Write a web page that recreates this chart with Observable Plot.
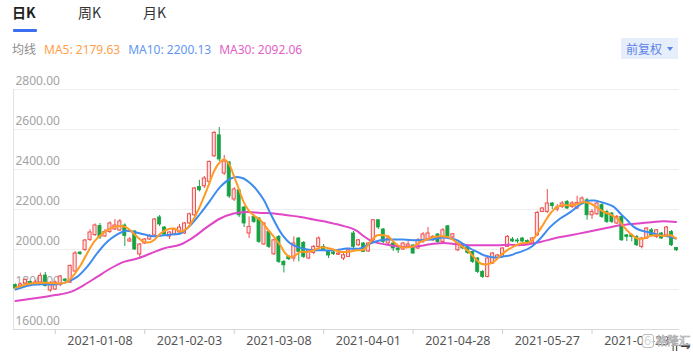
<!DOCTYPE html>
<html>
<head>
<meta charset="utf-8">
<script src="https://cdn.jsdelivr.net/npm/d3@7"></script>
<script src="https://cdn.jsdelivr.net/npm/@observablehq/plot@0.6"></script>
<style>
  html, body { margin: 0; padding: 0; background: #fff; }
  body { width: 693px; height: 353px; position: relative; overflow: hidden;
         font-family: "Noto Sans", "Noto Sans CJK SC", sans-serif; }
  .abs { position: absolute; white-space: nowrap; }
  #chart { position: absolute; left: 0; top: 60px; }
</style>
</head>
<body>
<div class="abs" style="left:12px;top:2px;font-size:14px;font-weight:700;color:#1f1f1f;font-family:'Noto Sans CJK SC',sans-serif;">日K</div>
<div class="abs" style="left:13px;top:29px;width:24px;height:3px;background:#3b6ff2;border-radius:1px;"></div>
<div class="abs" style="left:78px;top:2px;font-size:14px;color:#333;font-family:'Noto Sans CJK SC',sans-serif;">周K</div>
<div class="abs" style="left:143px;top:2px;font-size:14px;color:#333;font-family:'Noto Sans CJK SC',sans-serif;">月K</div>
<div id="legend" class="abs" style="left:12px;top:40px;font-size:12px;"></div>
<div class="abs" style="left:621px;top:38px;width:57px;height:21px;background:#e6eefc;"></div>
<div class="abs" style="left:626px;top:40px;font-size:12px;color:#5b82e6;font-family:'Noto Sans CJK SC',sans-serif;">前复权</div>
<div class="abs" style="left:667px;top:47px;width:0;height:0;border-left:3.5px solid transparent;border-right:3.5px solid transparent;border-top:4px solid #5b82e6;"></div>
<div id="chart"></div>
<div class="abs" style="left:642px;top:334px;width:10px;height:12px;border:1.5px solid #bdbdbd;border-radius:3px;background:rgba(255,255,255,0.75);"></div>
<div class="abs" style="left:656px;top:332px;font-size:11.5px;line-height:16px;color:rgba(255,255,255,0.8);-webkit-text-stroke:0.7px #b0b0b0;font-family:'Noto Sans CJK SC',sans-serif;">格隆汇</div>
<script>
// ---- data ----
const open = [1822,1815,1830,1838,1828,1835,1870,1795,1800,1822,
  1850,1835,1890,1985,1998,2048,2072,2118,2065,2088,
  2100,2095,2120,2040,2090,1975,2030,2050,2070,2160,
  2110,2065,2075,2085,2080,2130,2171,2313,2316,2338,
  2466,2571,2380,2435,2250,2296,2210,2080,2163,2155,
  2025,2088,1976,2063,1938,1963,1955,2055,2033,1955,
  1983,2013,2013,1990,1985,1974,1955,1963,2080,2021,
  2030,1990,2046,2146,2100,2030,2030,2005,2000,2015,
  2020,2005,2038,2050,2046,2075,2038,2116,2060,1996,
  2026,2010,1988,1955,1888,1863,1930,1955,1963,2013,
  2050,2045,2055,2043,2030,2071,2188,2188,2230,2200,
  2213,2238,2213,2205,2230,2246,2171,2176,2222,2188,
  2180,2130,2163,2071,2071,2063,2013,2055,2096,2063,
  2080,2071,2088,2008];
const close = [1805,1825,1848,1828,1835,1868,1818,1830,1835,1865,
  1843,1918,1980,1977,2045,2085,2120,2060,2088,2130,
  2120,2140,2068,2050,2000,2025,2050,2065,2150,2125,
  2075,2085,2100,2110,2130,2176,2305,2296,2355,2438,
  2583,2450,2440,2265,2300,2171,2130,2113,2138,2038,
  2130,2013,2046,1938,1921,1951,2030,1988,1963,1996,
  2013,2055,1996,1970,1978,1980,1971,1996,2013,2046,
  1988,2030,2146,2110,2038,2055,2005,1996,2030,2025,
  1980,2046,2075,2080,2063,2038,2096,2063,2076,2030,
  2005,1983,1938,1888,1863,1955,1980,1970,2005,2063,
  2040,2040,2040,2030,2055,2183,2205,2230,2217,2210,
  2230,2205,2230,2233,2255,2171,2188,2230,2163,2138,
  2138,2163,2046,2063,2063,2021,2055,2105,2071,2096,
  2055,2110,2021,1996];
const high = [1828,1832,1852,1842,1845,1882,1885,1840,1842,1870,
  1855,1922,1990,1988,2050,2098,2128,2130,2100,2138,
  2150,2150,2128,2060,2095,2030,2055,2075,2155,2170,
  2115,2090,2105,2125,2135,2182,2310,2346,2365,2442,
  2590,2610,2470,2440,2310,2300,2215,2163,2170,2160,
  2135,2095,2050,2070,1945,1970,2063,2060,2040,2000,
  2020,2063,2025,1995,1995,1985,1980,2000,2090,2050,
  2035,2035,2150,2150,2105,2070,2035,2010,2035,2040,
  2025,2055,2085,2110,2070,2080,2105,2120,2080,2035,
  2030,2015,1990,1960,1895,1960,1985,1975,2010,2070,
  2060,2055,2060,2048,2060,2190,2210,2300,2235,2225,
  2240,2245,2240,2266,2263,2255,2200,2235,2230,2195,
  2185,2170,2170,2075,2078,2070,2060,2110,2105,2100,
  2085,2115,2095,2010];
const low = [1795,1810,1826,1822,1822,1830,1812,1785,1795,1815,
  1838,1830,1885,1970,1990,2040,2065,2050,2060,2080,
  2095,2090,2015,2035,1995,1960,2025,2045,2065,2115,
  2070,2050,2068,2080,2075,2125,2165,2288,2305,2330,
  2460,2440,2370,2255,2240,2160,2110,2055,2130,2030,
  2020,2005,1970,1930,1883,1945,1938,1938,1955,1950,
  1975,2005,1990,1955,1970,1970,1945,1960,2005,2015,
  1985,1985,2040,2100,2030,2025,1990,1980,1995,2010,
  1975,2000,2030,2045,2040,2030,2030,2055,2055,1990,
  2000,1975,1930,1880,1855,1858,1925,1950,1958,2010,
  2035,2030,2035,2025,2025,2065,2185,2180,2200,2188,
  2205,2200,2205,2200,2225,2146,2150,2170,2155,2130,
  2130,2125,2040,2040,2038,2015,2003,2050,2065,2055,
  2050,2065,2015,1990];

// moving-average lines: [candle index, value]
const ma5 = [[0,1808],[3,1830],[5,1833],[7,1833],[9,1830],[10.4,1838],[11.7,1871],[13.1,1921],[14.4,1980],[15.8,2038],
  [17.1,2071],[18.4,2096],[19.8,2113],[21.1,2118],[22.1,2113],[23.1,2096],[24.5,2063],[25.8,2038],[26.8,2035],[27.8,2046],
  [29.2,2080],[30.5,2100],[31.9,2105],[33.2,2090],[34.5,2105],[35.9,2155],[37.2,2221],[38.6,2305],[39.9,2388],
  [40.9,2430],[41.9,2450],[42.9,2430],[43.9,2371],[44.9,2305],[45.9,2238],[46.9,2196],[47.9,2171],[49.3,2146],[50.6,2105],
  [52,2063],[53.3,2021],[54.3,1980],[55.3,1963],[56.3,1971],[57.3,1988],[58.6,1988],[60,1996],[61.3,2010],[62.7,2008],
  [64,2000],[65.4,1988],[66.7,1988],[68.7,1996],[70.1,2000],[71.4,2038],[72.8,2071],[74.1,2071],[75.1,2063],[76.1,2038],
  [77.5,2013],[78.8,2010],[80.1,2016],[81.5,2038],[82.8,2050],[84.2,2063],[85.5,2066],[86.9,2063],[88.2,2046],[89.5,2021],
  [90.9,1996],[92.2,1963],[93.6,1930],[94.9,1926],[96.2,1938],[97.6,1971],[98.9,1996],[100.3,2016],[101.6,2030],
  [103.6,2038],[105,2080],[106.3,2130],[107.6,2180],[109,2213],[110.3,2221],[111.7,2221],[113,2226],[114.3,2238],[115.7,2230],
  [117,2210],[118.4,2188],[119.7,2175],[121.1,2155],[122.4,2113],[123.7,2080],[125.1,2055],[126.4,2055],[127.8,2068],
  [129.1,2071],[130.4,2068],[131.8,2071],[132.9,2055]];
const ma10 = [[0,1800],[3,1821],[5.7,1826],[8.4,1826],[10.4,1838],[12.4,1863],[14.4,1913],[16.4,1980],[18.4,2038],[20.5,2076],
  [22.1,2093],[23.8,2088],[25.8,2076],[27.8,2066],[29.8,2071],[31.9,2076],[33.2,2080],[35.2,2121],[37.2,2180],[39.2,2246],
  [41.2,2313],[43.3,2355],[44.6,2363],[45.9,2355],[47.3,2330],[48.6,2296],[50,2246],[51.3,2180],[52.7,2113],[54,2063],
  [55.3,2030],[56.7,2013],[58.7,2000],[61.4,1996],[64.1,1996],[66.7,2005],[69.4,2005],[71.4,2030],[73.4,2046],[75.4,2050],
  [78.1,2050],[80.8,2046],[83.5,2050],[86.2,2060],[87.5,2055],[88.9,2046],[90.2,2026],[91.5,2005],[92.9,1988],[94.2,1971],
  [95.6,1963],[96.9,1960],[98.3,1966],[99.6,1971],[100.9,1983],[101.6,1988],[103.6,2010],[105.6,2055],[107.6,2113],
  [109.6,2155],[111.7,2188],[113,2213],[114,2230],[115,2243],[116.4,2245],[117.7,2238],[119,2228],[120.4,2213],[121.7,2180],
  [123.1,2146],[124.4,2113],[125.7,2096],[127.1,2088],[128.4,2080],[129.8,2071],[131.1,2066],[132.9,2055]];
const ma30 = [[0,1743],[5.7,1763],[9.05,1776],[11.1,1788],[13.7,1821],[16.4,1863],[19.1,1905],[21.8,1938],[24.5,1955],
  [27.2,1980],[29.8,2005],[33.2,2025],[35.9,2063],[38.6,2113],[41.2,2155],[43.9,2180],[46.6,2188],[49.3,2183],[52,2180],
  [54.7,2171],[57.3,2163],[60,2150],[62.7,2138],[65.4,2121],[67.4,2108],[68.7,2093],[70.1,2066],[71.4,2045],[72.8,2033],
  [75.4,2021],[78.1,2013],[80.8,2016],[83.5,2026],[86.2,2033],[88.9,2026],[91.5,2021],[94.2,2021],[96.9,2021],[99.6,2024],
  [101.6,2022],[105.6,2038],[108.3,2055],[111.7,2071],[115,2088],[118.4,2105],[121.7,2121],[125.1,2130],[128.4,2138],
  [130.4,2141],[132.9,2138]];

const tickLabels = ["2021-01-08","2021-02-03","2021-03-08","2021-04-01","2021-04-28","2021-05-27","2021-06-23"];
const tickAt = [17,35,53,71,89,107,125];       // candle index of each date label
const tickMarks = [8,26,44,62,80,98,116];      // separators between labels
const yTicks = [1600,1800,2000,2200,2400,2600,2800];

const legendItems = [
  {text: "均线", color: "#8c8c8c"},
  {text: "MA5: 2179.63", color: "#ffa04a"},
  {text: "MA10: 2200.13", color: "#5f97f4"},
  {text: "MA30: 2092.06", color: "#e35fc6"}
];

// ---- build ----
document.getElementById("legend").innerHTML = legendItems.map((d, k) =>
  `<span style="color:${d.color};margin-right:${k === 0 ? 8 : 8}px;${k === 0 ? "font-family:'Noto Sans CJK SC',sans-serif;" : ""}">${d.text}</span>`).join("");

const candles = close.map((c, i) => ({i, open: open[i], close: c, high: high[i], low: low[i]}));
const ups = candles.filter(d => d.close >= d.open);
const downs = candles.filter(d => d.close < d.open);
const RED = "#ef4d4d", REDFILL = "#fde2e2", GREEN = "#18a243";
const hw = 0.31;

const chart = Plot.plot({
  width: 693, height: 293,
  marginTop: 29, marginBottom: 24, marginLeft: 13, marginRight: 14,
  x: {domain: [-0.4, 133.6], axis: null},
  y: {domain: [1600, 2800], axis: null},
  style: {fontFamily: "'Noto Sans', 'Noto Sans CJK SC', sans-serif", background: "transparent", overflow: "visible"},
  marks: [
    Plot.ruleY(yTicks.slice(1), {stroke: "#eeeeee", strokeWidth: 1}),
    Plot.ruleY([1600], {stroke: "#d9d9d9"}),
    Plot.ruleX([-0.4], {stroke: "#e3e3e3"}),
    Plot.axisY(yTicks, {anchor: "left", tickSize: 0, tickPadding: -2, textAnchor: "start", dy: -8,
      tickFormat: d => d.toFixed(2), fill: "#a3a3a3", fontSize: 12}),
    Plot.axisX(tickMarks, {anchor: "bottom", tickSize: 5, tickFormat: () => "", stroke: "#cfcfcf"}),
    Plot.axisX(tickAt, {anchor: "bottom", tickSize: 0, tickPadding: 7, fontSize: 12.5, fill: "#555",
      tickFormat: d => tickLabels[tickAt.indexOf(d)]}),
    Plot.ruleX(ups, {x: "i", y1: "low", y2: "high", stroke: RED, strokeWidth: 1}),
    Plot.ruleX(downs, {x: "i", y1: "low", y2: "high", stroke: GREEN, strokeWidth: 1}),
    Plot.rect(ups, {x1: d => d.i - hw, x2: d => d.i + hw, y1: "open", y2: "close", fill: REDFILL, stroke: RED, strokeWidth: 1}),
    Plot.rect(downs, {x1: d => d.i - hw, x2: d => d.i + hw, y1: "open", y2: "close", fill: GREEN, stroke: GREEN, strokeWidth: 0.8}),
    Plot.line(ma30, {x: d => d[0], y: d => d[1], stroke: "#e046c6", strokeWidth: 2, curve: "catmull-rom"}),
    Plot.line(ma10, {x: d => d[0], y: d => d[1], stroke: "#3d8bef", strokeWidth: 2, curve: "catmull-rom"}),
    Plot.line(ma5, {x: d => d[0], y: d => d[1], stroke: "#ff9a24", strokeWidth: 2, curve: "catmull-rom"})
  ]
});
document.getElementById("chart").appendChild(chart);
</script>
</body>
</html>
